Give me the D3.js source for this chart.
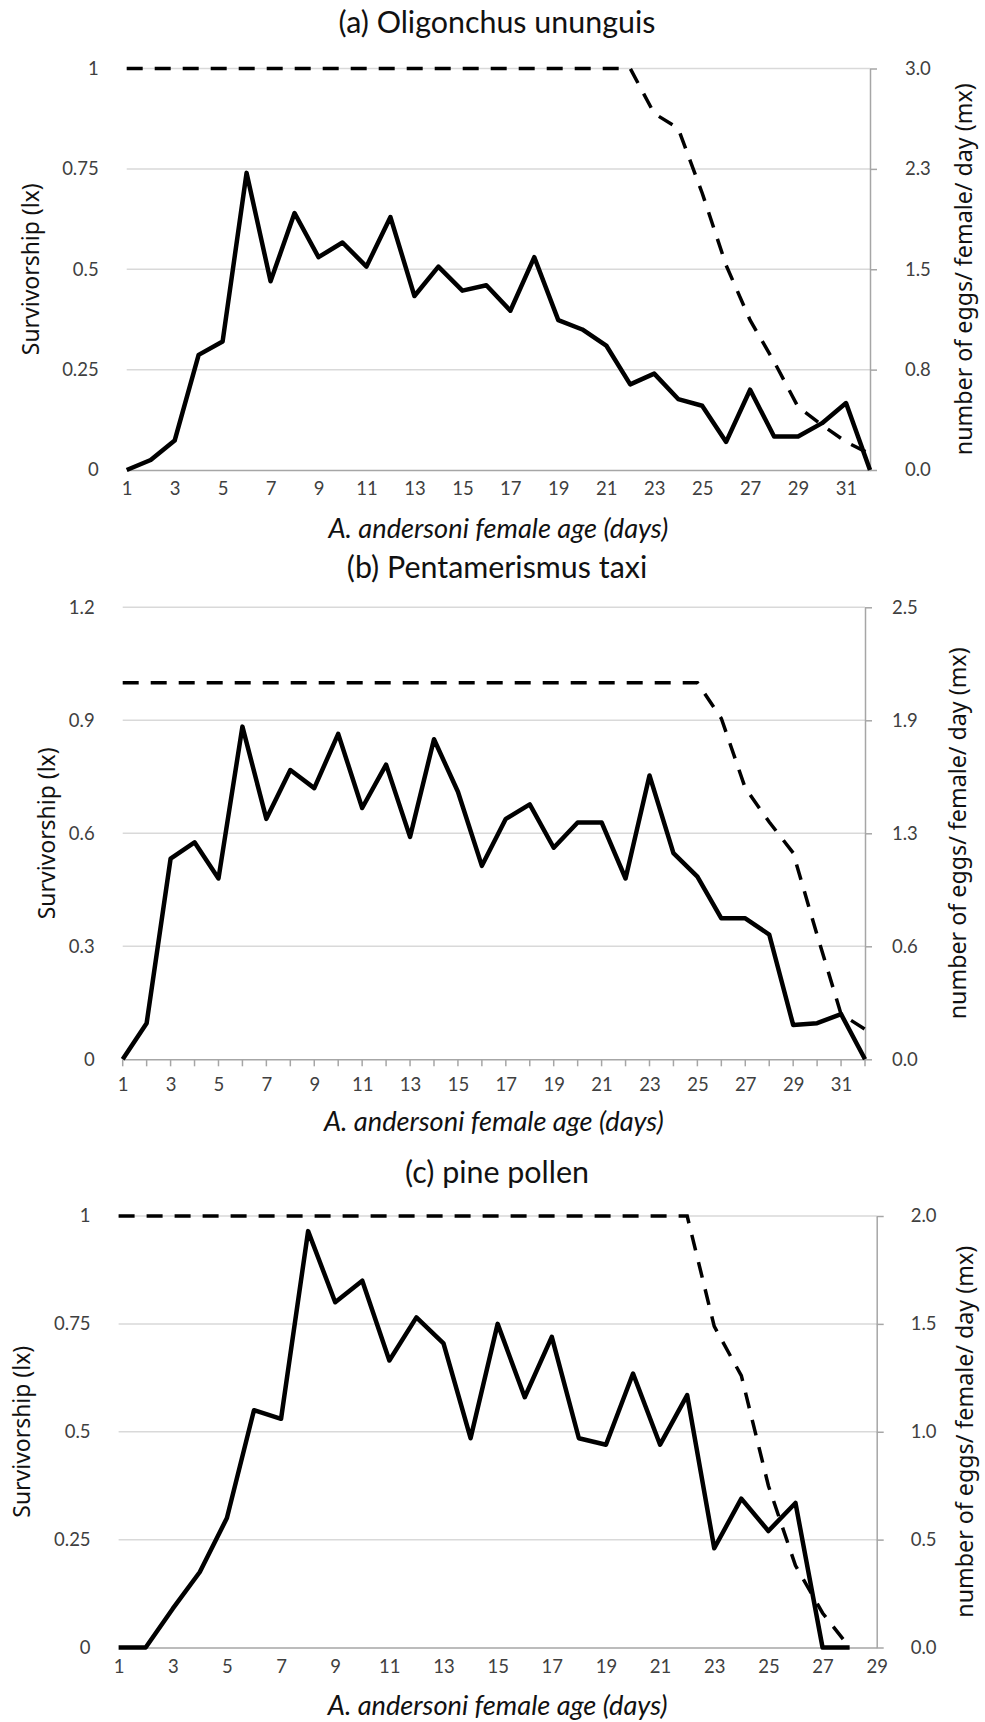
<!DOCTYPE html>
<html>
<head>
<meta charset="utf-8">
<script src="https://cdn.jsdelivr.net/npm/d3@7"></script>
<style>
  body { margin: 0; background: #fff; }
  svg { display: block; }
  .tick text { font-family: Lato, "Open Sans", sans-serif; fill: #404040; }
</style>
</head>
<body>
<svg id="chart" width="985" height="1722"></svg>
<script>
// ---- data ----
// days on the x axis
const daysA = [1, 2, 3, 4, 5, 6, 7, 8, 9, 10, 11, 12, 13, 14, 15, 16,
  17, 18, 19, 20, 21, 22, 23, 24, 25, 26, 27, 28, 29, 30, 31, 32];
const daysB = [1, 2, 3, 4, 5, 6, 7, 8, 9, 10, 11, 12, 13, 14, 15, 16,
  17, 18, 19, 20, 21, 22, 23, 24, 25, 26, 27, 28, 29, 30, 31, 32];
const daysC = [1, 2, 3, 4, 5, 6, 7, 8, 9, 10, 11, 12, 13, 14, 15, 16,
  17, 18, 19, 20, 21, 22, 23, 24, 25, 26, 27, 28];

// survivorship lx (dashed, left axis)
const lxA = [1, 1, 1, 1, 1, 1, 1, 1, 1, 1, 1, 1, 1, 1, 1, 1,
  1, 1, 1, 1, 1, 1, 0.888, 0.851, 0.69, 0.51, 0.373, 0.27, 0.157, 0.112, 0.07, 0.04];
const lxB = [1, 1, 1, 1, 1, 1, 1, 1, 1, 1, 1, 1, 1, 1, 1, 1,
  1, 1, 1, 1, 1, 1, 1, 1, 1, 0.905, 0.72, 0.63, 0.548, 0.33, 0.12, 0.08];
const lxC = [1, 1, 1, 1, 1, 1, 1, 1, 1, 1, 1, 1, 1, 1, 1, 1,
  1, 1, 1, 1, 1, 1, 0.744, 0.63, 0.375, 0.19, 0.08, 0];

// eggs / female / day mx (solid, right axis)
const mxA = [0, 0.075, 0.22, 0.86, 0.96, 2.22, 1.41, 1.92, 1.59, 1.70, 1.52, 1.89, 1.30, 1.52, 1.34, 1.38,
  1.19, 1.59, 1.12, 1.05, 0.93, 0.64, 0.72, 0.53, 0.48, 0.21, 0.60, 0.25, 0.25, 0.35, 0.50, 0];
const mxB = [0, 0.20, 1.11, 1.20, 1.00, 1.84, 1.33, 1.60, 1.50, 1.80, 1.39, 1.63, 1.23, 1.77, 1.48, 1.07,
  1.33, 1.41, 1.17, 1.31, 1.31, 1.00, 1.57, 1.14, 1.01, 0.78, 0.78, 0.69, 0.19, 0.20, 0.25, 0];
const mxC = [0, 0, 0.18, 0.35, 0.60, 1.10, 1.06, 1.93, 1.60, 1.70, 1.33, 1.53, 1.41, 0.97, 1.50, 1.16,
  1.44, 0.97, 0.94, 1.27, 0.94, 1.17, 0.46, 0.69, 0.54, 0.67, 0, 0];

// tick labels
const xTicksA = [1, 3, 5, 7, 9, 11, 13, 15, 17, 19, 21, 23, 25, 27, 29, 31];
const xTicksC = [1, 3, 5, 7, 9, 11, 13, 15, 17, 19, 21, 23, 25, 27, 29];
const lxTicksA = [0, 0.25, 0.5, 0.75, 1];
const lxTicksB = [0, 0.3, 0.6, 0.9, 1.2];
const mxTicksA = [0, 0.75, 1.5, 2.25, 3];
const mxTicksB = [0, 0.625, 1.25, 1.875, 2.5];
const mxTicksC = [0, 0.5, 1, 1.5, 2];

const titles = ['(a) Oligonchus ununguis', '(b) Pentamerismus taxi', '(c) pine pollen'];
const xTitle = 'A. andersoni female age (days)';
const yLeftTitle = 'Survivorship (lx)';
const yRightTitle = 'number of eggs/ female/ day (mx)';

// ---- layout for the three panels ----
const panels = [
  { title: titles[0], days: daysA, lx: lxA, mx: mxA, xTicks: xTicksA, xMax: 32,
    lxTicks: lxTicksA, mxTicks: mxTicksA, lxMax: 1, mxMax: 3, dayTicks: false,
    left: 126.7, right: 870, top: 68.5, bottom: 470,
    titleY: 33, xPad: 12, xTitleY: 538, yTitleX: 31, yRightTitleX: 964, rightPad: 35 },
  { title: titles[1], days: daysB, lx: lxB, mx: mxB, xTicks: xTicksA, xMax: 32,
    lxTicks: lxTicksB, mxTicks: mxTicksB, lxMax: 1.2, mxMax: 2.5, dayTicks: true,
    left: 122.7, right: 865, top: 607.3, bottom: 1059.3,
    titleY: 578, xPad: 19, xTitleY: 1131, yTitleX: 47, yRightTitleX: 958, rightPad: 27 },
  { title: titles[2], days: daysC, lx: lxC, mx: mxC, xTicks: xTicksC, xMax: 29,
    lxTicks: lxTicksA, mxTicks: mxTicksC, lxMax: 1, mxMax: 2, dayTicks: false,
    left: 118.6, right: 876.7, top: 1216, bottom: 1647.5,
    titleY: 1183, xPad: 12, xTitleY: 1715, yTitleX: 22, yRightTitleX: 965, rightPad: 34 }
];

const svg = d3.select('#chart');
svg.append('rect').attr('width', 985).attr('height', 1722).attr('fill', '#fff');

// pick a font size so a text gets a given width
function fitSize(str, family, fstyle, target) {
  const t = svg.append('text')
    .style('font-family', family).style('font-style', fstyle).style('font-size', '20px')
    .text(str);
  const len = t.node().getComputedTextLength();
  t.remove();
  return 20 * target / len;
}

const titleFont = 'Lato, "Open Sans", sans-serif';
const yTitleFont = '"Noto Sans", "DejaVu Sans", sans-serif';
const titleSize = fitSize(titles[0], titleFont, 'normal', 317);
const xTitleSize = fitSize(xTitle, titleFont, 'italic', 340);
const yLeftSize = fitSize(yLeftTitle, yTitleFont, 'normal', 172);
const yRightSize = fitSize(yRightTitle, yTitleFont, 'normal', 372);

function drawPanel(p) {
  const g = svg.append('g');
  const x = d3.scaleLinear().domain([1, p.xMax]).range([p.left, p.right]);
  const yL = d3.scaleLinear().domain([0, p.lxMax]).range([p.bottom, p.top]);
  const yR = d3.scaleLinear().domain([0, p.mxMax]).range([p.bottom, p.top]);

  // gridlines
  g.append('g')
    .selectAll('line')
    .data(p.lxTicks.filter(d => d > 0))
    .enter().append('line')
    .attr('x1', p.left).attr('x2', p.right)
    .attr('y1', d => yL(d)).attr('y2', d => yL(d))
    .attr('stroke', '#d9d9d9').attr('stroke-width', 1.5);

  // left axis labels (no line)
  const axL = g.append('g')
    .attr('transform', 'translate(' + p.left + ',0)')
    .call(d3.axisLeft(yL).tickValues(p.lxTicks).tickSize(0).tickPadding(28).tickFormat(d => String(d)));
  axL.select('.domain').remove();

  // bottom axis
  const axB = g.append('g')
    .attr('transform', 'translate(0,' + p.bottom + ')')
    .call(d3.axisBottom(x).tickValues(p.xTicks).tickSize(0).tickPadding(p.xPad).tickFormat(d => String(d)));
  axB.select('.domain').attr('stroke', '#a6a6a6').attr('stroke-width', 1.5);
  if (p.dayTicks) {
    g.append('g')
      .selectAll('line')
      .data(p.days)
      .enter().append('line')
      .attr('x1', d => x(d)).attr('x2', d => x(d))
      .attr('y1', p.bottom).attr('y2', p.bottom + 7)
      .attr('stroke', '#a6a6a6').attr('stroke-width', 1.5);
  }

  // right axis
  const axR = g.append('g')
    .attr('transform', 'translate(' + p.right + ',0)')
    .call(d3.axisRight(yR).tickValues(p.mxTicks).tickSizeInner(7).tickSizeOuter(0)
      .tickPadding(p.rightPad - 7).tickFormat(d3.format('.1f')));
  axR.select('.domain').attr('stroke', '#a6a6a6').attr('stroke-width', 1.5);
  axR.selectAll('.tick line').attr('stroke', '#a6a6a6').attr('stroke-width', 1.5);

  g.selectAll('.tick text').style('font-size', '18.5px');

  // lx dashed
  const lineL = d3.line().x((d, i) => x(p.days[i])).y(d => yL(d));
  g.append('path')
    .datum(p.lx)
    .attr('fill', 'none')
    .attr('stroke', '#000')
    .attr('stroke-width', 3.5)
    .attr('stroke-dasharray', '16,12')
    .attr('d', lineL);

  // mx solid
  const lineR = d3.line().x((d, i) => x(p.days[i])).y(d => yR(d));
  g.append('path')
    .datum(p.mx)
    .attr('fill', 'none')
    .attr('stroke', '#000')
    .attr('stroke-width', 4.5)
    .attr('stroke-linejoin', 'round')
    .attr('d', lineR);

  // titles
  g.append('text')
    .attr('x', 497).attr('y', p.titleY)
    .attr('text-anchor', 'middle')
    .style('font-family', titleFont)
    .style('font-size', titleSize + 'px')
    .attr('fill', '#111')
    .text(p.title);

  g.append('text')
    .attr('x', (p.left + p.right) / 2).attr('y', p.xTitleY)
    .attr('text-anchor', 'middle')
    .style('font-family', titleFont)
    .style('font-style', 'italic')
    .style('font-size', xTitleSize + 'px')
    .attr('fill', '#111')
    .text(xTitle);

  g.append('text')
    .attr('transform', 'translate(' + p.yTitleX + ',' + ((p.top + p.bottom) / 2) + ') rotate(-90)')
    .attr('text-anchor', 'middle')
    .attr('dy', '0.35em')
    .style('font-family', yTitleFont)
    .style('font-size', yLeftSize + 'px')
    .attr('fill', '#111')
    .text(yLeftTitle);

  g.append('text')
    .attr('transform', 'translate(' + p.yRightTitleX + ',' + ((p.top + p.bottom) / 2) + ') rotate(-90)')
    .attr('text-anchor', 'middle')
    .attr('dy', '0.35em')
    .style('font-family', yTitleFont)
    .style('font-size', yRightSize + 'px')
    .attr('fill', '#111')
    .text(yRightTitle);
}

panels.forEach(drawPanel);
</script>
</body>
</html>
